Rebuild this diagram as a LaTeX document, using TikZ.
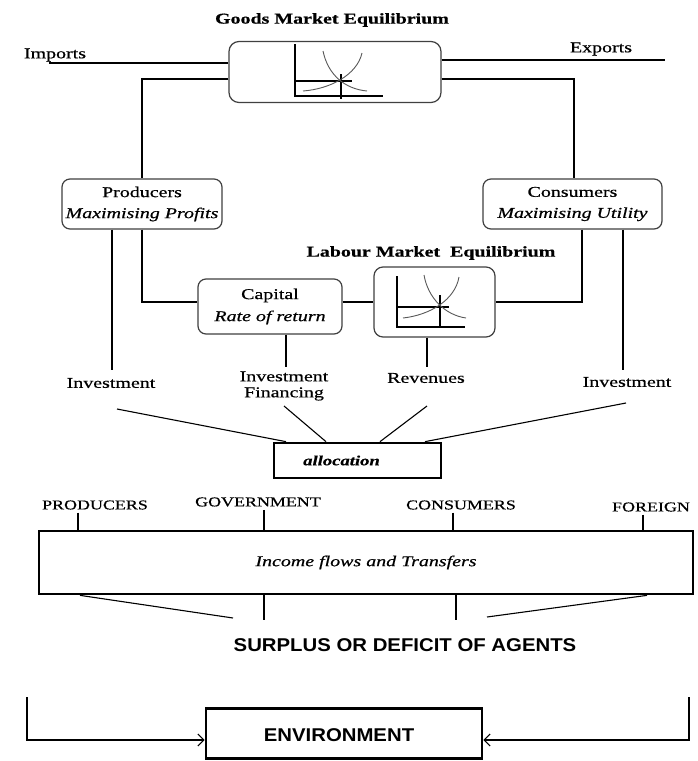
\documentclass[tikz,border=0pt]{standalone}
\usepackage{fontspec}
\setmainfont{Liberation Serif}
\newfontfamily\wser[FakeStretch=1.33,FakeBold=0.6]{Liberation Serif}
\newfontfamily\wsans[FakeStretch=1.1]{Liberation Sans}
\usetikzlibrary{arrows.meta}
\begin{document}
\begin{tikzpicture}[x=1pt,y=-1pt,
  lbl/.style={inner sep=0pt, align=center, font=\wser\fontsize{15}{16}\selectfont},
  blbl/.style={lbl, font=\wser\bfseries\fontsize{15}{16}\selectfont},
  caps/.style={inner xsep=0pt, inner ysep=3pt, font=\wser\fontsize{13.5}{15}\selectfont},
  sanslbl/.style={inner sep=0pt, font=\wsans\bfseries\fontsize{18.5}{20}\selectfont},
  rbox/.style={draw=black!75, line width=1.2pt, rounded corners=8pt, inner sep=0pt, align=center,
    font=\wser\fontsize{15}{21}\selectfont},
  tbox/.style={draw=black, line width=2.7pt, inner sep=0pt},
  ln/.style={line width=1.1pt, draw=black},
  crv/.style={line width=0.9pt, draw=black!65},
  axis/.style={line width=1.2pt, draw=black}
]
\useasboundingbox[fill=white] (0,0) rectangle (698,761);

% ---------- Goods market ----------
\node[blbl] (gtitle) at (332,20) {Goods Market Equilibrium};
\node[rbox, minimum width=212pt, minimum height=61pt, rounded corners=10pt] (goods) at (335,72) {};
\node[lbl] (imp) at (55,55) {Imports};
\node[lbl] (exp) at (601,49) {Exports};
\coordinate (impEnd) at (49,63);
\coordinate (expEnd) at (665,60);
\draw[ln] (impEnd) -- (goods.west |- impEnd);
\draw[ln] (goods.east |- expEnd) -- (expEnd);

% goods graph
\draw[axis] (295,44) -- (295,96) -- (383,96);
\draw[ln] (295,81) -- (352,81);
\draw[ln] (341,74) -- (341,99);
\draw[crv] (323,51) .. controls (328,75) and (345,89) .. (367,91);
\draw[crv] (362,53) .. controls (357,75) and (330,89) .. (303,91);

% ---------- Producers / Consumers ----------
\node[rbox, minimum width=160pt, minimum height=50pt] (prod) at (142,204)
  {Producers\\\textit{Maximising Profits}};
\node[rbox, minimum width=179pt, minimum height=50pt] (cons) at (572.5,204)
  {Consumers\\\textit{Maximising Utility}};
\draw[ln] (goods.west |- 0,79) -| (prod.north -| 142,0);
\draw[ln] (goods.east |- 0,79) -| (cons.north -| 574,0);

% ---------- Labour / Capital ----------
\node[blbl] (ltitle) at (431,253) {Labour Market\ \ Equilibrium};
\node[rbox, minimum width=121pt, minimum height=70pt, rounded corners=9pt] (lab) at (434.5,302) {};
\node[rbox, minimum width=144pt, minimum height=55pt, font=\wser\fontsize{15}{22}\selectfont] (cap) at (270,306.5)
  {Capital\\\textit{Rate of return}};

\draw[axis] (397,276) -- (397,327) -- (465,327);
\draw[ln] (397,307) -- (449,307);
\draw[ln] (440,295) -- (440,327);
\draw[crv] (424,275) .. controls (428,298) and (445,315) .. (466,318);
\draw[crv] (459,277) .. controls (455,300) and (430,315) .. (403,318);

\draw[ln] (prod.south -| 142,0) |- (cap.west |- 0,302);
\draw[ln] (cons.south -| 582,0) |- (lab.east |- 0,302);
\draw[ln] (cap.east |- 0,302) -- (lab.west |- 0,302);

% ---------- flows to allocation ----------
\node[lbl] (invL) at (111,383) {Investment};
\node[lbl, font=\wser\fontsize{15}{16}\selectfont] (invF) at (284,386) {Investment\\Financing};
\node[lbl] (rev) at (426,378) {Revenues};
\node[lbl] (invR) at (627,382) {Investment};

\coordinate (invLtop) at (112,370);
\coordinate (invFtop) at (286,367);
\coordinate (revtop) at (427,367);
\coordinate (invRtop) at (623,370);
\draw[ln] (prod.south -| invLtop) -- (invLtop);
\draw[ln] (cap.south -| invFtop) -- (invFtop);
\draw[ln] (lab.south -| revtop) -- (revtop);
\draw[ln] (cons.south -| invRtop) -- (invRtop);

\node[tbox, minimum width=167pt, minimum height=35pt,
  font=\wser\bfseries\itshape\fontsize{14}{16}\selectfont] (alloc) at (357.5,460.5)
  {allocation\hspace*{32pt}};

\coordinate (sL) at (117,409);
\coordinate (sF) at (284,406);
\coordinate (sR) at (427,406);
\coordinate (sI) at (626,403);
\draw[ln] (sL) -- (alloc.north -| 286,0);
\draw[ln] (sF) -- (alloc.north -| 326,0);
\draw[ln] (sR) -- (alloc.north -| 380,0);
\draw[ln] (sI) -- (alloc.north -| 425,0);

% ---------- agents ----------
\node[caps] (aP) at (95,505) {PRODUCERS};
\node[caps] (aG) at (258,502) {GOVERNMENT};
\node[caps] (aC) at (461,505) {CONSUMERS};
\node[caps] (aF) at (651,507) {FOREIGN};

\node[tbox, minimum width=654pt, minimum height=63pt,
  font=\wser\itshape\fontsize{15}{16}\selectfont] (inc) at (366,562.5) {Income flows and Transfers};

\draw[ln] (aP.south -| 78,0) -- (inc.north -| 78,0);
\draw[ln] (aG.south -| 264,0) -- (inc.north -| 264,0);
\draw[ln] (aC.south -| 453,0) -- (inc.north -| 453,0);
\draw[ln] (aF.south -| 643,0) -- (inc.north -| 643,0);

\coordinate (bL) at (233,618);
\coordinate (bG) at (264,620);
\coordinate (bC) at (456,620);
\coordinate (bR) at (487,617);
\draw[ln] (inc.south -| 80,0) -- (bL);
\draw[ln] (inc.south -| bG) -- (bG);
\draw[ln] (inc.south -| bC) -- (bC);
\draw[ln] (inc.south -| 647,0) -- (bR);

\node[sanslbl] (surplus) at (405,645) {SURPLUS OR DEFICIT OF AGENTS};

% ---------- environment ----------
\node[tbox, minimum width=276pt, minimum height=50pt] (env) at (344,733.5) {};
\node[sanslbl] (envt) at (339,735) {ENVIRONMENT};
\coordinate (eL) at (27,697);
\coordinate (eR) at (689,697);
\draw[ln, -{Straight Barb[length=6pt, width=12pt]}] (eL) |- (env.west |- 0,740);
\draw[ln, -{Straight Barb[length=6pt, width=12pt]}] (eR) |- (env.east |- 0,740);
\end{tikzpicture}
\end{document}
